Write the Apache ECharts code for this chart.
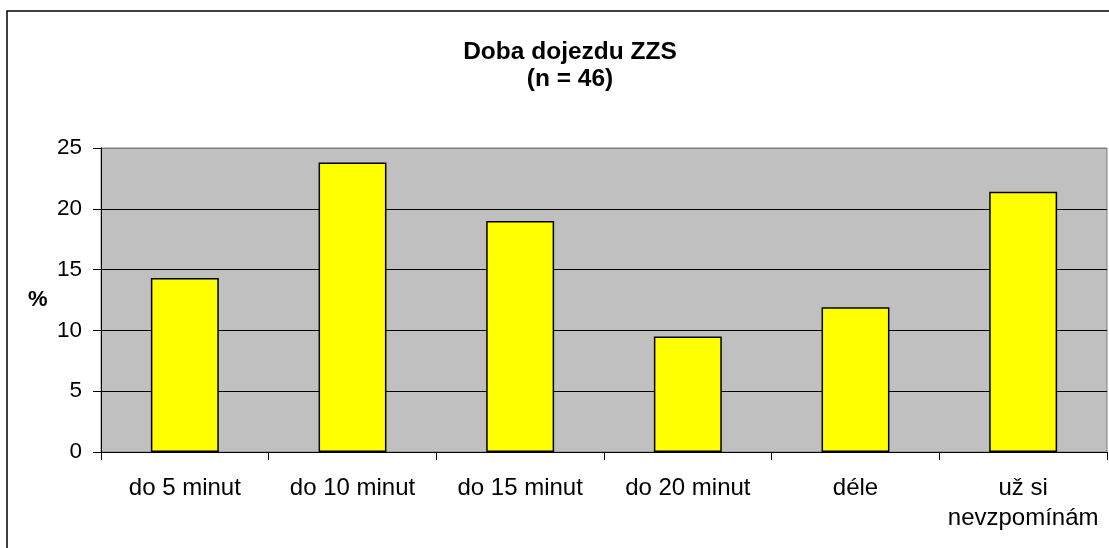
<!DOCTYPE html>
<html>
<head>
<meta charset="utf-8">
<script src="https://cdn.jsdelivr.net/npm/echarts@6/dist/echarts.min.js"></script>
<style>
  html, body { margin: 0; padding: 0; background: #ffffff; }
  #chart { width: 1109px; height: 548px; }
</style>
</head>
<body>
<div id="chart"></div>
<script>
// categories and shares (%)
const categories = ['do 5 minut', 'do 10 minut', 'do 15 minut', 'do 20 minut', 'déle', 'už si\nnevzpomínám']
const shares = [14.3, 23.8, 19.0, 9.5, 11.9, 21.4]
const yTicks = [0, 5, 10, 15, 20, 25]

const font = "'Liberation Sans', Arial, sans-serif"
const chart = echarts.init(document.getElementById('chart'))

const option = {
  backgroundColor: '#ffffff',
  animation: false,
  title: {
    text: 'Doba dojezdu ZZS\n(n = 46)',
    left: 565,
    textAlign: 'center',
    top: 34,
    textStyle: {
      fontFamily: font,
      fontSize: 24.5,
      fontWeight: 'bold',
      color: '#000',
      lineHeight: 27,
    },
  },
  graphic: [
    {
      // outer chart frame, runs past the right and bottom edges
      type: 'rect',
      shape: { x: 7, y: 11, width: 1120, height: 560 },
      style: { fill: 'none', stroke: '#000', lineWidth: 1.5 },
      silent: true,
    },
    {
      type: 'text',
      left: 28,
      top: 289,
      style: { text: '%', font: 'bold 22px ' + font, fill: '#000' },
    },
  ],
  grid: {
    left: 101,
    right: 2,
    top: 148,
    bottom: 96,
    show: true,
    backgroundColor: '#c0c0c0',
    borderColor: '#808080',
    borderWidth: 1,
  },
  xAxis: {
    type: 'category',
    data: categories,
    axisLine: { lineStyle: { color: '#000', width: 1 } },
    axisTick: { show: true, length: 8, alignWithLabel: false, lineStyle: { color: '#000' } },
    axisLabel: {
      interval: 0,
      margin: 21,
      fontFamily: font,
      fontSize: 24,
      lineHeight: 30,
      color: '#000',
    },
  },
  yAxis: {
    type: 'value',
    min: yTicks[0],
    max: yTicks[yTicks.length - 1],
    interval: 5,
    axisLine: { show: true, lineStyle: { color: '#000', width: 1 } },
    axisTick: { show: true, length: 8, lineStyle: { color: '#000' } },
    axisLabel: {
      margin: 19,
      fontFamily: font,
      fontSize: 22.5,
      color: '#000',
    },
    splitLine: {
      show: true,
      lineStyle: { color: ['#000', '#000', '#000', '#000', '#000', '#808080'], width: 1 },
    },
  },
  series: [
    {
      type: 'bar',
      data: shares,
      barWidth: '40.5%',
      itemStyle: {
        color: '#ffff00',
        borderColor: '#000',
        borderWidth: 1.5,
      },
    },
  ],
}

chart.setOption(option)
</script>
</body>
</html>
